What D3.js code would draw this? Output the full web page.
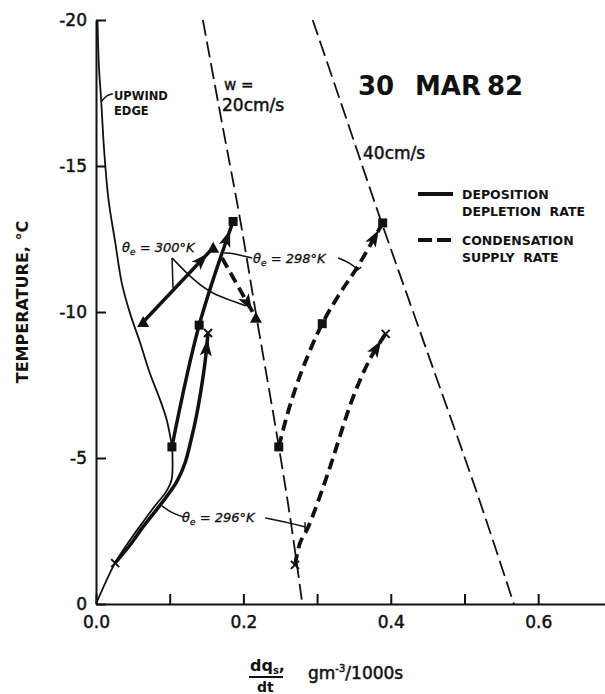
<!DOCTYPE html>
<html lang="en">
<head>
<meta charset="UTF-8">
<title>30 MAR 82</title>
<style>
    body { margin: 0; background: #ffffff; }
    svg { display: block; }
    text { font-family: "DejaVu Sans", sans-serif; fill: #111; }
</style>
</head>
<body>
<div id="content"></div>
<script src="https://d3js.org/d3.v7.min.js"></script>
<script>

    // ticks
    var xTicks = [0, 0.1, 0.2, 0.3, 0.4, 0.5, 0.6],
        xTickLabels = ["0.0", "", "0.2", "", "0.4", "", "0.6"],
        yTicks = [-20, -15, -10, -5, 0],
        yTickLabels = ["-20", "-15", "-10", "-5", "0"];

    // upwind edge (thin solid): from the top down to the 298 K start, then down to the origin
    var upwindQ = [0.002, 0.004, 0.007, 0.011, 0.017, 0.026, 0.035, 0.046, 0.06, 0.073, 0.087, 0.096, 0.1032],
        upwindT = [-20, -18.4, -17.26, -15.55, -13.84, -12.4, -10.99, -9.97, -8.94, -7.91, -6.99, -6.3, -5.38],
        upwindLowQ = [0.1032, 0.1038, 0.1025, 0.095, 0.08, 0.0638, 0.0462, 0.0258, 0],
        upwindLowT = [-5.38, -5.07, -4.25, -3.84, -3.36, -2.81, -2.19, -1.4, 0];

    // condensation supply rate for w = 20 and 40 cm/s (thin dashed)
    var w20Q = [0.145, 0.17, 0.195, 0.218, 0.248, 0.265, 0.28],
        w20T = [-20, -16.6, -13.25, -9.8, -5.4, -2.7, 0],
        w40Q = [0.294, 0.34, 0.385, 0.45, 0.517, 0.567],
        w40T = [-20, -16.6, -13.25, -8.6, -3.8, 0];

    // deposition depletion rate (thick solid)
    var dep296Q = [0.0258, 0.0462, 0.0638, 0.0828, 0.0964, 0.11, 0.1208, 0.129, 0.1357, 0.1425, 0.148, 0.152],
        dep296T = [-1.4, -2.02, -2.64, -3.25, -3.7, -4.21, -4.83, -5.62, -6.37, -7.33, -8.29, -9.28],
        dep298Q = [0.103, 0.14, 0.186],
        dep298T = [-5.38, -9.55, -13.1],
        dep300Q = [0.064, 0.159],
        dep300T = [-9.66, -12.2];

    // condensation supply rate along the path (thick dashed)
    var con296Q = [0.27, 0.277, 0.288, 0.313, 0.349, 0.372, 0.393],
        con296T = [-1.34, -2.1, -2.64, -4.35, -7.09, -8.4, -9.25],
        con298Q = [0.248, 0.262, 0.281, 0.307, 0.33, 0.355, 0.389],
        con298T = [-5.38, -6.7, -8.1, -9.6, -10.6, -11.55, -13.05],
        con300Q = [0.171, 0.217],
        con300T = [-11.85, -9.8];

    // markers: x = 296 K, square = 298 K, triangle = 300 K
    var crossQ = [0.026, 0.152, 0.27, 0.393],
        crossT = [-1.4, -9.28, -1.34, -9.25],
        squareQ = [0.103, 0.14, 0.186, 0.248, 0.307, 0.389],
        squareT = [-5.38, -9.55, -13.1, -5.38, -9.6, -13.05],
        triangleQ = [0.064, 0.159, 0.217],
        triangleT = [-9.66, -12.2, -9.8];

    // leader lines of the labels (data units)
    var leaders = [
        [[0.0068, -17.2], [0.0149, -17.43], [0.0231, -17.47]],
        [[0.1032, -11.85], [0.1045, -10.82]],
        [[0.1032, -11.85], [0.1317, -11.1], [0.1588, -10.6], [0.1887, -10.35], [0.2036, -10.21]],
        [[0.2118, -11.85], [0.1955, -11.95], [0.1819, -12.02], [0.1738, -12.02]],
        [[0.3285, -11.85], [0.3448, -11.68], [0.3543, -11.47]],
        [[0.349, -11.34], [0.36, -11.54]],
        [[0.118, -2.98], [0.1005, -3.15], [0.0896, -3.36]],
        [[0.2294, -2.95], [0.2633, -2.77], [0.2837, -2.64]],
        [[0.2837, -2.8], [0.2837, -2.48]]
    ];

    var width = 605, height = 694;

    var svg = d3.select("#content")
        .append("svg")
        .attr("width", width)
        .attr("height", height);

    var xScale = d3.scaleLinear().domain([0, 0.69]).range([96, 604.5]);
    var yScale = d3.scaleLinear().domain([0, -20]).range([604, 20]);

    // axes
    var xAxis = d3.axisBottom(xScale)
        .tickValues(xTicks)
        .tickSizeInner(-10)
        .tickSizeOuter(0)
        .tickPadding(12)
        .tickFormat(function (d, i) { return xTickLabels[i]; });

    var yAxis = d3.axisLeft(yScale)
        .tickValues(yTicks)
        .tickSizeInner(-10)
        .tickSizeOuter(0)
        .tickPadding(9)
        .tickFormat(function (d, i) { return yTickLabels[i]; });

    var xAxisG = svg.append("g")
        .attr("transform", "translate(0," + yScale(0) + ")")
        .call(xAxis);

    var yAxisG = svg.append("g")
        .attr("transform", "translate(" + xScale(0) + ",0)")
        .call(yAxis);

    svg.selectAll(".domain").attr("stroke", "#111").attr("stroke-width", 2);
    svg.selectAll(".tick line").attr("stroke", "#111").attr("stroke-width", 2);
    svg.selectAll(".tick text")
        .attr("font-family", "DejaVu Sans")
        .attr("font-size", 17)
        .attr("fill", "#111")
        .attr("stroke", "#111")
        .attr("stroke-width", 0.5);

    function toPoints(qs, ts) {
        return qs.map(function (q, i) { return {q: q, t: ts[i]}; });
    }

    var curve = d3.line()
        .x(function (d) { return xScale(d.q); })
        .y(function (d) { return yScale(d.t); })
        .curve(d3.curveCatmullRom.alpha(0.5));

    function drawLine(qs, ts, strokeWidth, dash) {
        return svg.append("path")
            .datum(toPoints(qs, ts))
            .attr("d", curve)
            .attr("fill", "none")
            .attr("stroke", "#111")
            .attr("stroke-width", strokeWidth)
            .attr("stroke-linecap", "butt")
            .attr("stroke-dasharray", dash);
    }

    // filled arrowhead a little before the end of a path
    function addArrow(path, tipBack) {
        var node = path.node();
        var L = node.getTotalLength();
        var len = 17, half = 6;
        var tip = node.getPointAtLength(L - tipBack);
        var back = node.getPointAtLength(Math.max(0, L - tipBack - len));
        var dx = tip.x - back.x, dy = tip.y - back.y, n = Math.sqrt(dx * dx + dy * dy);
        var ux = dx / n, uy = dy / n;
        var bx = tip.x - ux * len, by = tip.y - uy * len;
        var pts = [
            [tip.x, tip.y],
            [bx - uy * half, by + ux * half],
            [bx + ux * 4, by + uy * 4],
            [bx + uy * half, by - ux * half]
        ];
        svg.append("path")
            .attr("d", "M" + pts.join("L") + "Z")
            .attr("fill", "#111");
    }

    drawLine(upwindQ, upwindT, 1.8, null);
    drawLine(upwindLowQ, upwindLowT, 1.8, null);
    drawLine(w20Q, w20T, 1.8, "16,6");
    drawLine(w40Q, w40T, 1.8, "16,6");

    var d296 = drawLine(dep296Q, dep296T, 3.5, null);
    var d298 = drawLine(dep298Q, dep298T, 3.5, null);
    var d300 = drawLine(dep300Q, dep300T, 3.5, null);
    var c296 = drawLine(con296Q, con296T, 3.8, "11,6");
    var c298 = drawLine(con298Q, con298T, 3.8, "11,6");
    var c300 = drawLine(con300Q, con300T, 3.8, "11,6");

    addArrow(d296, 6);
    addArrow(d298, 9);
    addArrow(d300, 8);
    addArrow(c296, 8);
    addArrow(c298, 8);
    addArrow(c300, 8);

    // markers
    svg.selectAll(".sq")
        .data(toPoints(squareQ, squareT))
        .enter().append("rect")
        .attr("x", function (d) { return xScale(d.q) - 4.5; })
        .attr("y", function (d) { return yScale(d.t) - 4.5; })
        .attr("width", 9)
        .attr("height", 9)
        .attr("fill", "#111");

    svg.selectAll(".tri")
        .data(toPoints(triangleQ, triangleT))
        .enter().append("path")
        .attr("transform", function (d) { return "translate(" + xScale(d.q) + "," + yScale(d.t) + ")"; })
        .attr("d", "M0,-6L6,5L-6,5Z")
        .attr("fill", "#111");

    svg.selectAll(".cross")
        .data(toPoints(crossQ, crossT))
        .enter().append("path")
        .attr("transform", function (d) { return "translate(" + xScale(d.q) + "," + yScale(d.t) + ")"; })
        .attr("d", "M-4,-4L4,4M4,-4L-4,4")
        .attr("stroke", "#111")
        .attr("stroke-width", 2);

    // leader lines
    var leaderLine = d3.line()
        .x(function (d) { return xScale(d[0]); })
        .y(function (d) { return yScale(d[1]); })
        .curve(d3.curveBasis);

    svg.selectAll(".leader")
        .data(leaders)
        .enter().append("path")
        .attr("d", leaderLine)
        .attr("fill", "none")
        .attr("stroke", "#111")
        .attr("stroke-width", 1.5);

    // texts
    function label(x, y, str, size, weight) {
        return svg.append("text")
            .attr("x", x)
            .attr("y", y)
            .attr("font-size", size)
            .attr("font-weight", weight || "normal")
            .style("white-space", "pre")
            .text(str);
    }

    label(114, 100, "UPWIND", 11.5, "bold");
    label(114, 115, "EDGE", 11.5, "bold");
    label(224, 90, "w =", 15).attr("stroke", "#111").attr("stroke-width", 0.4);
    label(222, 111, "20cm/s", 17).attr("stroke", "#111").attr("stroke-width", 0.5);
    label(363, 159, "40cm/s", 17).attr("stroke", "#111").attr("stroke-width", 0.5);
    label(358, 95, "30", 26, "bold");
    label(415, 95, "MAR", 26, "bold");
    label(487, 95, "82", 26, "bold");

    // legend
    svg.append("line")
        .attr("x1", 418).attr("x2", 453).attr("y1", 194).attr("y2", 194)
        .attr("stroke", "#111").attr("stroke-width", 4);
    svg.append("line")
        .attr("x1", 418).attr("x2", 453).attr("y1", 240).attr("y2", 240)
        .attr("stroke", "#111").attr("stroke-width", 4)
        .attr("stroke-dasharray", "14,5");
    label(462, 199, "DEPOSITION", 12.5, "bold");
    label(462, 216, "DEPLETION  RATE", 12.5, "bold");
    label(462, 245, "CONDENSATION", 12.5, "bold");
    label(462, 262, "SUPPLY  RATE", 12.5, "bold");

    // theta_e labels
    function thetaLabel(x, y, value) {
        var t = svg.append("text")
            .attr("x", x)
            .attr("y", y)
            .attr("font-size", 13)
            .attr("font-style", "italic")
            .attr("stroke", "#111")
            .attr("stroke-width", 0.3);
        t.append("tspan").text("\u03b8");
        t.append("tspan").attr("font-size", 9).attr("dy", 3).text("e");
        t.append("tspan").attr("dy", -3).text(" = " + value + "\u00b0K");
    }
    thetaLabel(122, 252, 300);
    thetaLabel(253, 263, 298);
    thetaLabel(182, 522, 296);

    // axis titles
    svg.append("text")
        .attr("transform", "translate(28,302) rotate(-90)")
        .attr("text-anchor", "middle")
        .attr("font-size", 16)
        .attr("font-weight", "bold")
        .text("TEMPERATURE, \u00b0C");

    var dq = svg.append("text")
        .attr("x", 250)
        .attr("y", 671)
        .attr("font-size", 16)
        .attr("font-weight", "bold");
    dq.append("tspan").text("dq");
    dq.append("tspan").attr("font-size", 10).attr("dy", 3).text("s");
    dq.append("tspan").attr("dy", -3).text(",");

    svg.append("line")
        .attr("x1", 249).attr("x2", 283).attr("y1", 677).attr("y2", 677)
        .attr("stroke", "#111").attr("stroke-width", 2);

    label(257, 692, "dt", 14, "bold");

    var unit = svg.append("text")
        .attr("x", 308)
        .attr("y", 679)
        .attr("font-size", 17)
        .attr("stroke", "#111")
        .attr("stroke-width", 0.5);
    unit.append("tspan").text("gm");
    unit.append("tspan").attr("font-size", 10).attr("dy", -7).text("-3");
    unit.append("tspan").attr("dy", 7).text("/1000s");

</script>
</body>
</html>
